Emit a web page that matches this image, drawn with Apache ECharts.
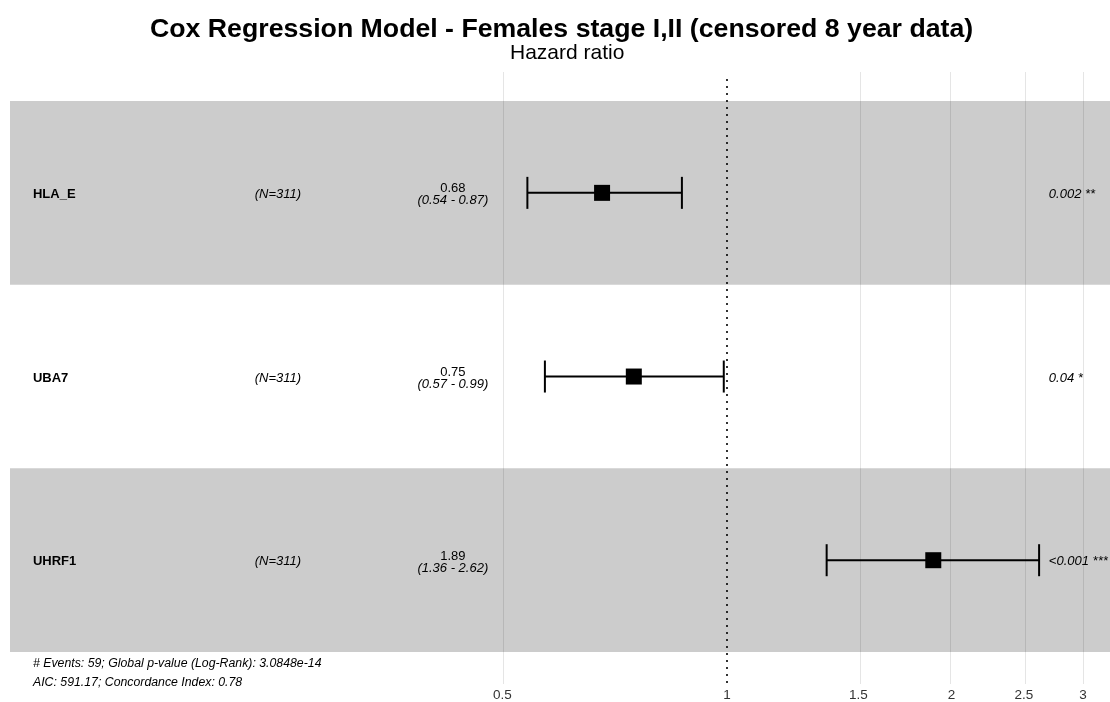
<!DOCTYPE html>
<html>
<head>
<meta charset="UTF-8">
<title>Cox Regression Model - Forest plot</title>
<script src="https://cdn.jsdelivr.net/npm/echarts@6/dist/echarts.min.js"></script>
<style>
  html, body { margin: 0; padding: 0; background: #fff; }
  #chart { width: 1110px; height: 702px; }
</style>
</head>
<body>
<div id="chart"></div>
<script>
const rows = ['HLA_E', 'UBA7', 'UHRF1'];
const nLabels = ['(N=311)', '(N=311)', '(N=311)'];
const hr = [0.68, 0.75, 1.89];
const ciLow = [0.54, 0.57, 1.36];
const ciHigh = [0.87, 0.99, 2.62];
const pValues = ['0.002 **', '0.04 *', '<0.001 ***'];
const xTicks = [0.5, 1, 1.5, 2, 2.5, 3];
const footer = [
  '# Events: 59; Global p-value (Log-Rank): 3.0848e-14',
  'AIC: 591.17; Concordance Index: 0.78'
];

// table columns, placed on the hazard-ratio scale like ggforest does
const colName = 0.1174, colN = 0.25, colHR = 0.429, colP = 2.70;

const ln = Math.log;
const FONT = '"Liberation Sans", Arial, sans-serif';
const yOf = i => i + 0.5;

const chart = echarts.init(document.getElementById('chart'));

function textItem(x, i, text, align, vAlign, style) {
  return {
    value: [ln(x), yOf(i)],
    label: Object.assign({
      show: true, position: 'inside', formatter: text,
      align: align, verticalAlign: vAlign, offset: [0, 1.5],
      color: '#000', fontFamily: FONT, fontSize: 13
    }, style || {})
  };
}

const tableData = [];
rows.forEach((r, i) => {
  tableData.push(textItem(colName, i, r, 'left', 'middle', { fontWeight: 'bold' }));
  tableData.push(textItem(colN, i, nLabels[i], 'center', 'middle', { fontStyle: 'italic' }));
  tableData.push(textItem(colHR, i, hr[i].toFixed(2), 'center', 'bottom', { lineHeight: 13, padding: [0, 0, -1, 0] }));
  tableData.push(textItem(colHR, i, '(' + ciLow[i].toFixed(2) + ' - ' + ciHigh[i].toFixed(2) + ')',
    'center', 'top', { fontStyle: 'italic', lineHeight: 13, padding: [0, 0, 0, 0] }));
  tableData.push(textItem(colP, i, pValues[i], 'left', 'middle', { fontStyle: 'italic' }));
});

chart.setOption({
  animation: false,
  title: [
    { text: 'Cox Regression Model - Females stage I,II (censored 8 year data)', left: 145, top: 11,
      textStyle: { fontFamily: FONT, fontSize: 26.7, fontWeight: 'bold', color: '#000' } },
    { text: 'Hazard ratio', left: 505, top: 38,
      textStyle: { fontFamily: FONT, fontSize: 21, fontWeight: 'normal', color: '#000' } }
  ],
  grid: { left: 10, right: 0, top: 72, bottom: 17 },
  xAxis: {
    type: 'value',
    min: -2.213, max: 1.182,
    axisLine: { show: false }, axisTick: { show: false }, splitLine: { show: false },
    axisLabel: {
      customValues: xTicks.map(ln),
      formatter: v => String(Math.round(Math.exp(v) * 10) / 10),
      margin: 4, fontFamily: FONT, fontSize: 13.5, color: '#333'
    }
  },
  yAxis: { type: 'value', inverse: true, min: -0.158, max: 3.174, show: false },
  graphic: footer.map((t, k) => ({
    type: 'text', left: 33, top: 658 + k * 19,
    style: { text: t, fontFamily: FONT, fontSize: 12.3, fontStyle: 'italic', fill: '#000' }
  })),
  series: [
    {
      type: 'scatter', data: [], z: 0, silent: true,
      markArea: {
        silent: true, itemStyle: { color: '#cccccc', opacity: 1 },
        data: [[{ yAxis: 0 }, { yAxis: 1 }], [{ yAxis: 2 }, { yAxis: 3 }]]
      }
    },
    {
      type: 'scatter', data: [], z: 1, silent: true,
      markLine: {
        silent: true, symbol: 'none', label: { show: false },
        lineStyle: { color: 'rgba(0,0,0,0.1)', width: 1, type: 'solid', opacity: 1 },
        data: xTicks.filter(v => v !== 1).map(v => ({ xAxis: ln(v) }))
      }
    },
    {
      type: 'scatter', data: [], z: 2, silent: true,
      markLine: {
        silent: true, symbol: 'none', label: { show: false },
        lineStyle: { color: '#000', width: 1.6, type: [2, 5], opacity: 1 },
        data: [[{ coord: [0, -0.12] }, { coord: [0, 3.174] }]]
      }
    },
    {
      type: 'custom', z: 3, silent: true,
      data: rows.map((r, i) => [ln(ciLow[i]), ln(ciHigh[i]), yOf(i)]),
      renderItem: (params, api) => {
        const a = api.coord([api.value(0), api.value(2)]);
        const b = api.coord([api.value(1), api.value(2)]);
        const h = 16;
        const st = { stroke: '#000', lineWidth: 2 };
        return {
          type: 'group',
          children: [
            { type: 'line', shape: { x1: a[0], y1: a[1], x2: b[0], y2: b[1] }, style: st },
            { type: 'line', shape: { x1: a[0], y1: a[1] - h, x2: a[0], y2: a[1] + h }, style: st },
            { type: 'line', shape: { x1: b[0], y1: b[1] - h, x2: b[0], y2: b[1] + h }, style: st }
          ]
        };
      }
    },
    {
      type: 'scatter', z: 4, silent: true, symbol: 'rect', symbolSize: 16,
      itemStyle: { color: '#000', opacity: 1 },
      data: rows.map((r, i) => [ln(hr[i]), yOf(i)])
    },
    {
      type: 'scatter', z: 5, silent: true, symbolSize: 0,
      itemStyle: { opacity: 1 },
      data: tableData
    }
  ]
});
</script>
</body>
</html>
